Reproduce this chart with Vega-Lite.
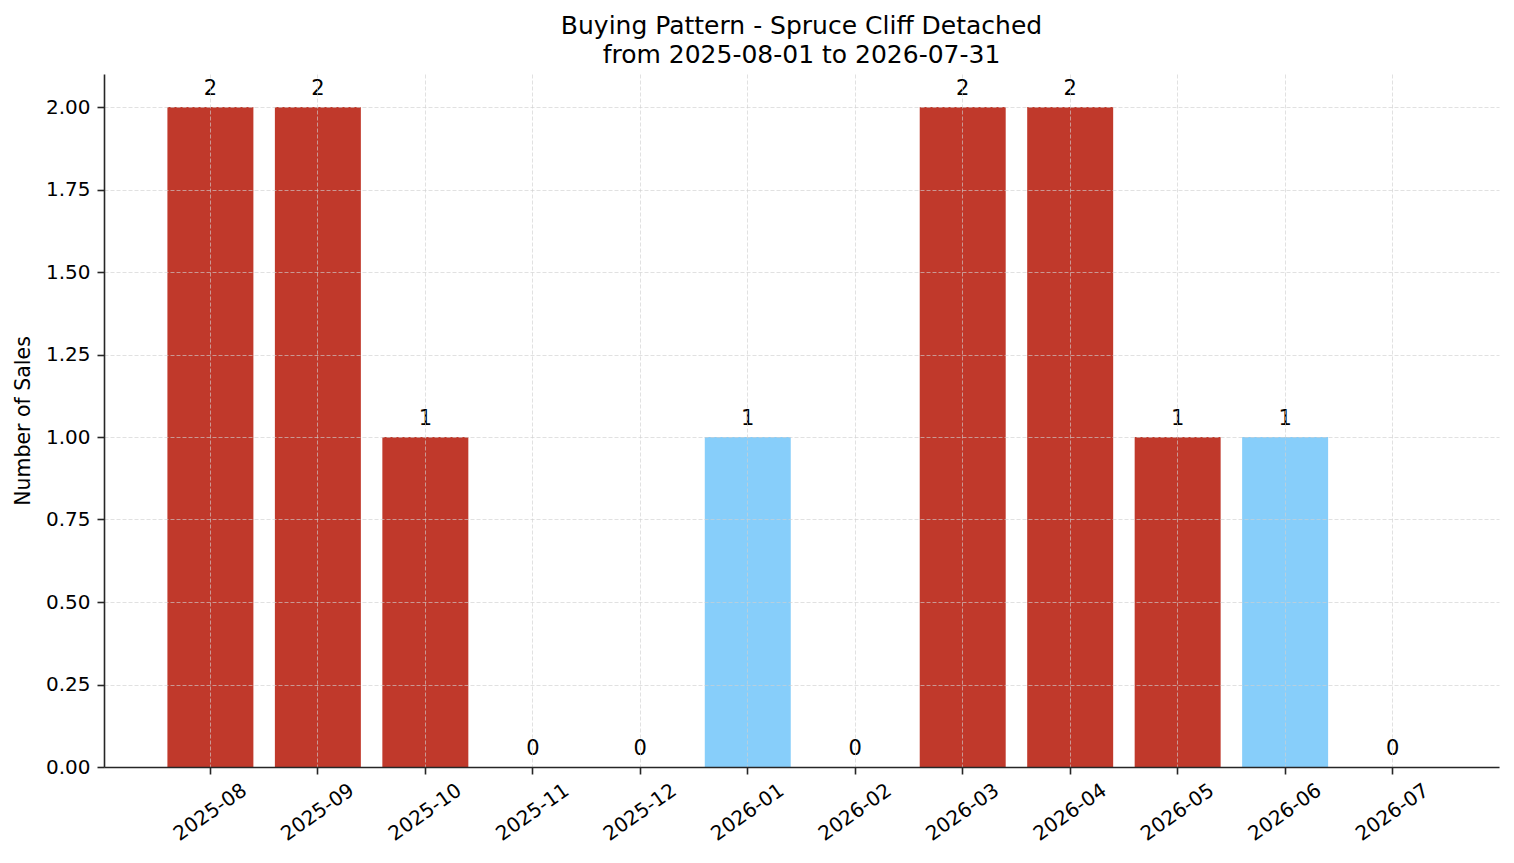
{
  "$schema": "https://vega.github.io/schema/vega-lite/v6.json",
  "autosize": {"type": "none"},
  "padding": {"left": 104, "top": 74, "right": 15, "bottom": 96},
  "width": 1395,
  "height": 693,
  "background": "white",
  "title": {
    "text": ["Buying Pattern - Spruce Cliff Detached", "from 2025-08-01 to 2026-07-31"],
    "font": "DejaVu Sans",
    "fontSize": 25,
    "fontWeight": "normal",
    "lineHeight": 29,
    "color": "black",
    "anchor": "middle",
    "baseline": "bottom",
    "offset": -19
  },
  "data": {
    "values": [
      {"month": "2025-08", "sales": 2, "group": "A"},
      {"month": "2025-09", "sales": 2, "group": "A"},
      {"month": "2025-10", "sales": 1, "group": "A"},
      {"month": "2025-11", "sales": 0, "group": "A"},
      {"month": "2025-12", "sales": 0, "group": "A"},
      {"month": "2026-01", "sales": 1, "group": "B"},
      {"month": "2026-02", "sales": 0, "group": "A"},
      {"month": "2026-03", "sales": 2, "group": "A"},
      {"month": "2026-04", "sales": 2, "group": "A"},
      {"month": "2026-05", "sales": 1, "group": "A"},
      {"month": "2026-06", "sales": 1, "group": "B"},
      {"month": "2026-07", "sales": 0, "group": "A"}
    ]
  },
  "encoding": {
    "x": {
      "field": "month",
      "type": "nominal",
      "sort": null,
      "scale": {"paddingInner": 0.2, "paddingOuter": 0.59},
      "axis": {
        "title": null,
        "labelAngle": -35,
        "labelAlign": "center",
        "labelBaseline": "middle",
        "labelPadding": 38,
        "bandPosition": 0.5,
        "zindex": 1
      }
    },
    "y": {
      "field": "sales",
      "type": "quantitative",
      "scale": {"domain": [0, 2.1], "nice": false},
      "axis": {
        "title": "Number of Sales",
        "values": [0, 0.25, 0.5, 0.75, 1, 1.25, 1.5, 1.75, 2],
        "format": ".2f",
        "titlePadding": 12,
        "zindex": 1
      }
    }
  },
  "layer": [
    {
      "mark": {"type": "bar"},
      "encoding": {
        "color": {
          "field": "group",
          "type": "nominal",
          "legend": null,
          "scale": {"domain": ["A", "B"], "range": ["#c0392b", "#87cefa"]}
        }
      }
    },
    {
      "mark": {"type": "text", "baseline": "alphabetic", "dy": -12, "fontSize": 21, "font": "DejaVu Sans", "color": "black"},
      "encoding": {
        "text": {"field": "sales", "type": "quantitative"}
      }
    }
  ],
  "config": {
    "view": {"stroke": null},
    "font": "DejaVu Sans",
    "axis": {
      "labelFont": "DejaVu Sans",
      "labelFontSize": 20,
      "labelColor": "black",
      "titleFont": "DejaVu Sans",
      "titleFontSize": 20.5,
      "titleFontWeight": "normal",
      "titleColor": "black",
      "domainColor": "#262626",
      "domainWidth": 1.6,
      "tickColor": "#262626",
      "tickWidth": 1.6,
      "tickSize": 7,
      "labelPadding": 7,
      "grid": true,
      "gridColor": "#cfcfcf",
      "gridOpacity": 0.8,
      "gridDash": [4, 2],
      "gridWidth": 0.8
    }
  }
}
